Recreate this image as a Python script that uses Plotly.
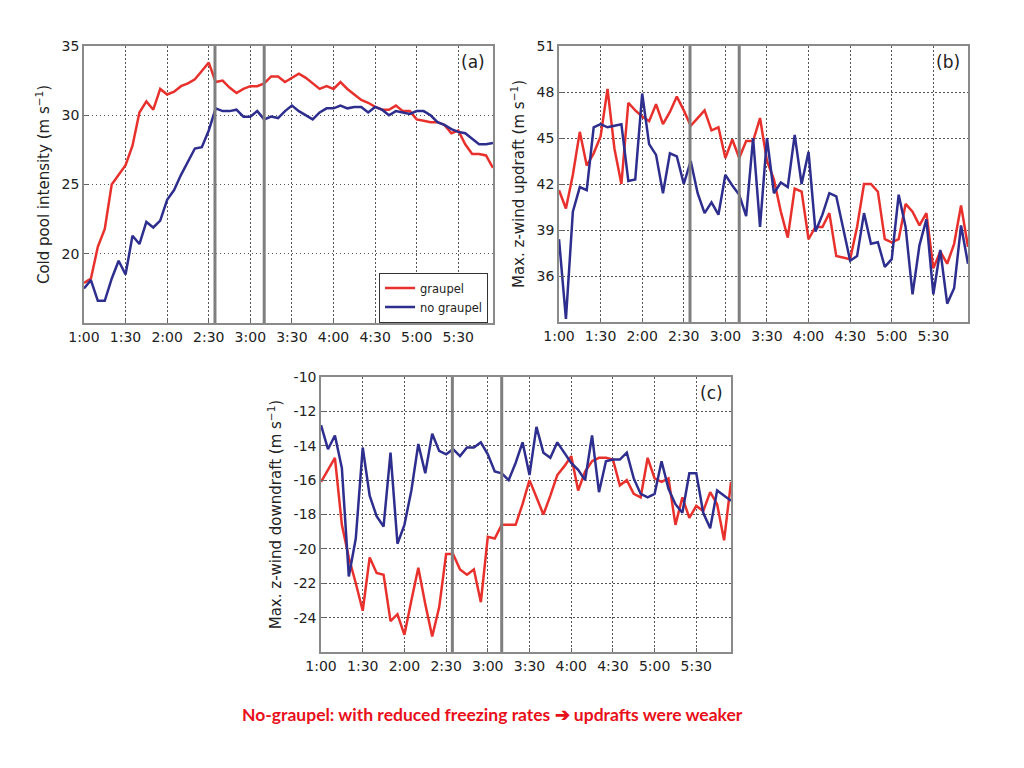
import plotly.graph_objects as go

# time in minutes (1:00 = 60) at 5-minute output intervals
minutes = [60, 65, 70, 75, 80, 85, 90, 95, 100, 105, 110, 115, 120, 125, 130, 135, 140, 145, 150, 155,
           160, 165, 170, 175, 180, 185, 190, 195, 200, 205, 210, 215, 220, 225, 230, 235, 240, 245, 250, 255,
           260, 265, 270, 275, 280, 285, 290, 295, 300, 305, 310, 315, 320, 325, 330, 335, 340, 345, 350, 355]
tick_vals = [60, 90, 120, 150, 180, 210, 240, 270, 300, 330]
tick_text = ["1:00", "1:30", "2:00", "2:30", "3:00", "3:30", "4:00", "4:30", "5:00", "5:30"]
marker_times = [154.5, 190]   # grey vertical lines

# (a) Cold pool intensity
cold_graupel = [17.9, 18.2, 20.5, 21.8, 25.0, 25.7, 26.4, 27.8, 30.2, 31.0,
                30.4, 31.9, 31.5, 31.7, 32.1, 32.3, 32.6, 33.2, 33.8, 32.4,
                32.5, 32.0, 31.6, 31.9, 32.1, 32.1, 32.3, 32.8, 32.8, 32.4,
                32.7, 33.0, 32.7, 32.3, 31.9, 32.1, 31.9, 32.4, 31.9, 31.5,
                31.1, 30.9, 30.6, 30.4, 30.4, 30.7, 30.3, 30.3, 29.7, 29.6,
                29.5, 29.5, 29.3, 28.7, 28.9, 27.9, 27.2, 27.2, 27.1, 26.2]
cold_nograupel = [17.5, 18.1, 16.6, 16.6, 18.2, 19.5, 18.5, 21.3, 20.7, 22.3,
                  21.9, 22.4, 23.9, 24.6, 25.7, 26.7, 27.6, 27.7, 28.9, 30.5,
                  30.3, 30.3, 30.4, 29.9, 29.9, 30.3, 29.7, 29.9, 29.8, 30.3,
                  30.7, 30.3, 30.0, 29.7, 30.2, 30.5, 30.5, 30.7, 30.5, 30.6,
                  30.6, 30.2, 30.6, 30.4, 30.0, 30.3, 30.2, 30.1, 30.3, 30.3,
                  30.0, 29.5, 29.3, 29.0, 28.8, 28.7, 28.3, 27.9, 27.9, 28.0]

# (b) Max. z-wind updraft
up_graupel = [41.6, 40.4, 42.6, 45.4, 43.2, 44.0, 45.1, 48.2, 44.3, 42.0,
              47.3, 46.8, 46.4, 46.1, 47.2, 45.9, 46.7, 47.7, 46.8, 45.8,
              46.3, 46.8, 45.5, 45.7, 43.7, 44.9, 43.7, 44.8, 44.8, 46.3,
              43.5, 42.3, 40.2, 38.5, 41.7, 41.5, 38.4, 39.2, 39.2, 40.1,
              37.3, 37.2, 37.1, 39.2, 42.0, 42.0, 41.5, 38.4, 38.2, 38.4,
              40.7, 40.2, 39.3, 40.1, 36.5, 37.6, 36.8, 38.1, 40.6, 37.9]
up_nograupel = [38.4, 33.2, 40.2, 41.8, 41.6, 45.7, 45.9, 45.7, 45.8, 45.9,
                42.2, 42.3, 47.9, 44.6, 43.9, 41.4, 44.0, 43.8, 42.0, 43.5,
                41.4, 40.1, 40.8, 40.0, 42.6, 41.9, 41.3, 39.9, 45.0, 39.2,
                45.0, 41.4, 42.1, 41.8, 45.2, 42.0, 44.1, 38.9, 40.0, 41.4,
                41.2, 39.0, 37.0, 37.3, 40.1, 38.1, 38.2, 36.6, 37.1, 41.3,
                39.2, 34.8, 38.0, 39.7, 34.8, 37.7, 34.2, 35.2, 39.3, 36.8]

# (c) Max. z-wind downdraft
down_graupel = [-16.1, -15.4, -14.7, -18.6, -20.5, -22.0, -23.6, -20.5, -21.4, -21.5,
                -24.2, -23.8, -25.0, -23.0, -21.1, -23.2, -25.1, -23.4, -20.3, -20.3,
                -21.2, -21.5, -21.2, -23.1, -19.3, -19.4, -18.6, -18.6, -18.6, -17.4,
                -16.0, -17.0, -18.0, -16.9, -15.7, -15.2, -14.6, -16.6, -15.5, -14.9,
                -14.7, -14.7, -14.8, -16.3, -16.0, -16.8, -17.0, -14.7, -15.9, -16.1,
                -15.9, -18.6, -17.0, -18.2, -17.5, -17.8, -16.7, -17.4, -19.5, -16.1]
down_nograupel = [-12.8, -14.2, -13.4, -15.3, -21.6, -19.4, -14.1, -16.9, -18.1, -18.7,
                  -14.4, -19.7, -18.6, -16.6, -13.9, -15.6, -13.3, -14.3, -14.5, -14.2,
                  -14.6, -14.1, -14.1, -13.8, -14.5, -15.5, -15.6, -16.0, -15.0, -13.8,
                  -15.7, -12.9, -14.4, -14.7, -13.8, -14.4, -15.0, -15.4, -16.0, -13.4,
                  -16.7, -14.9, -14.8, -14.8, -14.4, -15.9, -16.8, -17.0, -16.8, -14.9,
                  -16.5, -17.4, -17.9, -15.6, -15.6, -17.9, -18.8, -16.6, -16.9, -17.2]

RED = "#e8312c"
BLUE = "#2e2e8f"
GREY = "#7f7f7f"
FONT = "DejaVu Sans"

fig = go.Figure()

panels = [
    ("x", "y", cold_graupel, cold_nograupel, True),
    ("x2", "y2", up_graupel, up_nograupel, False),
    ("x3", "y3", down_graupel, down_nograupel, False),
]
for xa, ya, g, ng, show in panels:
    fig.add_trace(go.Scatter(x=minutes, y=g, mode="lines", name="graupel",
                             line=dict(color=RED, width=2.5), xaxis=xa, yaxis=ya,
                             showlegend=show))
    fig.add_trace(go.Scatter(x=minutes, y=ng, mode="lines", name="no graupel",
                             line=dict(color=BLUE, width=2.5), xaxis=xa, yaxis=ya,
                             showlegend=show))
    for t in marker_times:
        fig.add_shape(type="line", xref=xa, yref=ya + " domain", x0=t, x1=t, y0=0, y1=1,
                      line=dict(color=GREY, width=3), layer="above")

GRID = dict(showgrid=True, gridcolor="#555", griddash="1.5px,2.5px", gridwidth=1)
common_x = dict(GRID, range=[60, 355], tickvals=tick_vals, ticktext=tick_text,
                showline=True, linecolor="#8a8a8a", linewidth=1.5, mirror=True,
                ticks="inside", ticklen=4, tickcolor="#666", zeroline=False,
                automargin=False,
                tickfont=dict(family=FONT, size=14, color="#222"))
common_y = dict(GRID,
                showline=True, linecolor="#8a8a8a", linewidth=1.5, mirror=True,
                ticks="inside", ticklen=4, tickcolor="#666", zeroline=False,
                automargin=False,
                tickfont=dict(family=FONT, size=14, color="#222"))

title_font = dict(family=FONT, size=15, color="#222")

fig.update_layout(
    width=1024, height=768,
    margin=dict(l=0, r=0, t=0, b=0, pad=0, autoexpand=False),
    paper_bgcolor="white", plot_bgcolor="white",
    xaxis=dict(common_x, domain=[0.0820, 0.4814], anchor="y"),
    yaxis=dict(common_y, domain=[0.5794, 0.9401], anchor="x", range=[15, 35],
               tickvals=[20, 25, 30, 35], ticktext=["20", "25", "30", "35"],
               title=dict(text="Cold pool intensity (m s<sup>−1</sup>)", font=title_font, standoff=8)),
    xaxis2=dict(common_x, domain=[0.5459, 0.9453], anchor="y2"),
    yaxis2=dict(common_y, domain=[0.5807, 0.9401], anchor="x2", range=[33, 51],
                tickvals=[36, 39, 42, 45, 48, 51], ticktext=["36", "39", "42", "45", "48", "51"],
                title=dict(text="Max. z-wind updraft (m s<sup>−1</sup>)", font=title_font, standoff=8)),
    xaxis3=dict(common_x, domain=[0.3135, 0.7139], anchor="y3"),
    yaxis3=dict(common_y, domain=[0.1510, 0.5091], anchor="x3", range=[-26, -10],
                tickvals=[-24, -22, -20, -18, -16, -14, -12, -10],
                ticktext=["-24", "-22", "-20", "-18", "-16", "-14", "-12", "-10"],
                title=dict(text="Max. z-wind downdraft (m s<sup>−1</sup>)", font=title_font, standoff=8)),
    legend=dict(x=0.4766, y=1 - 297.5 / 768, xanchor="right", yanchor="middle",
                bgcolor="white", bordercolor="#333", borderwidth=1,
                font=dict(family=FONT, size=11.5, color="#222"),
                tracegroupgap=0, itemwidth=30),
    showlegend=True,
)

for xa, label in [("x", "(a)"), ("x2", "(b)"), ("x3", "(c)")]:
    ya = "y" + xa[1:]
    fig.add_annotation(text=label, xref=xa + " domain", yref=ya + " domain",
                       x=0.985, y=0.985, xanchor="right", yanchor="top", showarrow=False,
                       font=dict(family=FONT, size=17, color="#222"))

fig.add_annotation(text="<b>No-graupel: with reduced freezing rates ➔ updrafts were weaker</b>",
                   xref="paper", yref="paper", x=0.4805, y=1 - 714 / 768,
                   xanchor="center", yanchor="middle", showarrow=False,
                   font=dict(family="Lato", size=17.5, color="#e8101a"))

fig.write_html("out.html", config={"displayModeBar": False},
               post_script="document.body.style.margin='0';")
